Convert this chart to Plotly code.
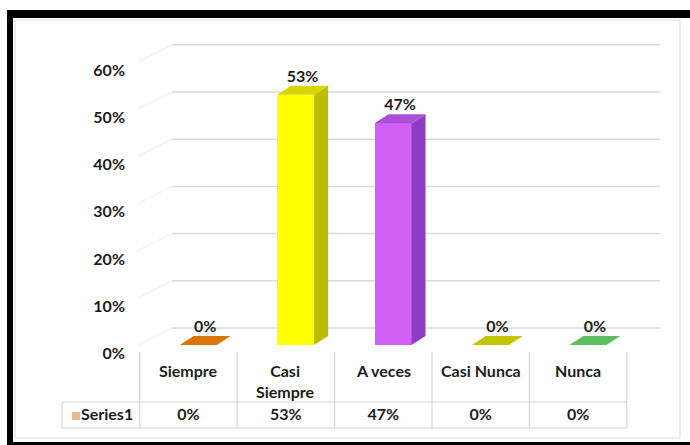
import plotly.graph_objects as go

# ---------------- data ----------------
categories = ["Siempre", "Casi Siempre", "A veces", "Casi Nunca", "Nunca"]
category_labels = ["Siempre", "Casi<br>Siempre", "A veces", "Casi Nunca", "Nunca"]
values = [0.0, 0.53, 0.47, 0.0, 0.0]
value_labels = ["0%", "53%", "47%", "0%", "0%"]
series_name = "Series1"
y_ticks = [0.0, 0.1, 0.2, 0.3, 0.4, 0.5, 0.6]
y_tick_labels = ["0%", "10%", "20%", "30%", "40%", "50%", "60%"]

# ---------------- styles ----------------
front_colors = ["#E07F12", "#FFFF00", "#D160F7", "#CACA00", "#62C462"]
top_colors = ["#D8760C", "#D6D600", "#A94FDA", "#C4C400", "#5CBE5C"]
side_colors = ["#B0600A", "#BCBC00", "#8E3EC4", "#A8A800", "#4A9E4A"]
legend_key_color = "#E8B996"
text_color = "#1c1c1c"
grid_color = "#d9d9d9"
table_line = "#d6d6d6"
FONT = "Lato"
FS = 16

W, H = 690, 445
X0_PX, XU = 188.5, 97.4      # pixel of category 0, pixels per category
Y0_PX, YU = 345.0, 472.0     # pixel of value 0 (front plane), pixels per 100%


def px_x(p):
    return (p - X0_PX) / XU


def px_y(p):
    return (Y0_PX - p) / YU


def pap_x(p):
    return p / W


def pap_y(p):
    return 1 - p / H


OFF = 0.10         # bar offset from category centre (3D perspective)
HW = 0.19          # half bar width
DX = 14 / XU       # bar depth, x
DY = 9 / YU        # bar depth, y
GRID_DY = 17 / YU  # back wall offset

tf = dict(family=FONT, size=FS, color=text_color, weight="bold")

fig = go.Figure()

# front faces
fig.add_trace(go.Bar(x=[i + OFF for i in range(len(values))], y=values, width=2 * HW,
                     marker=dict(color=front_colors, line=dict(width=0)),
                     hovertext=categories, name=series_name))

# side + top faces
for i, v in enumerate(values):
    x0, x1 = i + OFF - HW, i + OFF + HW
    if v > 0:
        fig.add_trace(go.Scatter(x=[x1, x1, x1 + DX, x1 + DX, x1], y=[0, v, v + DY, DY, 0],
                                 mode="lines", fill="toself", fillcolor=side_colors[i],
                                 line=dict(width=0, color=side_colors[i]), hoverinfo="skip"))
    fig.add_trace(go.Scatter(x=[x0, x1, x1 + DX, x0 + DX, x0], y=[v, v, v + DY, v + DY, v],
                             mode="lines", fill="toself", fillcolor=top_colors[i],
                             line=dict(width=0, color=top_colors[i]), hoverinfo="skip"))

# value labels
fig.add_trace(go.Scatter(x=[i + OFF + DX / 2 for i in range(len(values))],
                         y=[v + DY for v in values], mode="text", text=value_labels,
                         textposition="top center", textfont=tf, hoverinfo="skip"))

# y tick labels
fig.add_trace(go.Scatter(x=[px_x(125)] * len(y_ticks), y=[v - 10 / YU for v in y_ticks],
                         mode="text", text=y_tick_labels, textposition="middle left",
                         textfont=tf, hoverinfo="skip"))

# data table text
n = len(categories)
fig.add_trace(go.Scatter(x=list(range(n)), y=[px_y(416)] * n, mode="text", text=value_labels,
                         textposition="middle center", textfont=tf, hoverinfo="skip"))
fig.add_trace(go.Scatter(x=[px_x(76)], y=[px_y(416)], mode="markers",
                         marker=dict(symbol="square", size=8, color=legend_key_color),
                         hoverinfo="skip"))
fig.add_trace(go.Scatter(x=[px_x(81)], y=[px_y(416)], mode="text", text=[series_name],
                         textposition="middle right", textfont=tf, hoverinfo="skip"))

annotations = []
for i, lab in enumerate(category_labels):
    annotations.append(dict(x=i, y=px_y(359), xref="x", yref="y", text=lab, showarrow=False,
                            yanchor="top", xanchor="center", align="center", font=tf))

# frame
shapes = [
    dict(type="rect", xref="paper", yref="paper", x0=pap_x(7), x1=1.02, y0=-0.02, y1=pap_y(10),
         fillcolor="black", line=dict(width=0), layer="below"),
    dict(type="rect", xref="paper", yref="paper", x0=pap_x(13), x1=1.02, y0=pap_y(442),
         y1=pap_y(18), fillcolor="white", line=dict(width=0), layer="below"),
    dict(type="rect", xref="paper", yref="paper", x0=pap_x(15), x1=pap_x(680), y0=pap_y(438),
         y1=pap_y(20), line=dict(color="#dcdcdc", width=1), layer="below"),
]
# back wall gridlines and side wall diagonals (behind the bars)
for v in y_ticks:
    shapes.append(dict(type="line", xref="x", yref="y", x0=px_x(138), x1=px_x(172),
                       y0=v, y1=v + GRID_DY, line=dict(color="#f1f1f1", width=1.5),
                       layer="below"))
    shapes.append(dict(type="line", xref="x", yref="y", x0=px_x(172), x1=px_x(660),
                       y0=v + GRID_DY, y1=v + GRID_DY, line=dict(color=grid_color, width=1.5),
                       layer="below"))
# data table lines
top_t, mid_t, bot_t = px_y(352), px_y(402), px_y(428)
for b in [i - 0.5 for i in range(n + 1)]:
    shapes.append(dict(type="line", xref="x", yref="y", x0=b, x1=b, y0=top_t, y1=bot_t,
                       line=dict(color=table_line, width=1.2), layer="below"))
left_t = px_x(62)
for yy in (mid_t, bot_t):
    shapes.append(dict(type="line", xref="x", yref="y", x0=left_t, x1=n - 0.5, y0=yy, y1=yy,
                       line=dict(color=table_line, width=1.2), layer="below"))
shapes.append(dict(type="line", xref="x", yref="y", x0=left_t, x1=left_t, y0=mid_t, y1=bot_t,
                   line=dict(color=table_line, width=1.2), layer="below"))

fig.update_layout(
    width=W, height=H, margin=dict(l=0, r=0, t=0, b=0),
    paper_bgcolor="white", plot_bgcolor="rgba(0,0,0,0)",
    showlegend=False, shapes=shapes, annotations=annotations,
    xaxis=dict(visible=False, range=[px_x(0), px_x(W)], fixedrange=True),
    yaxis=dict(visible=False, range=[px_y(H), px_y(0)], fixedrange=True),
    bargap=0,
)

fig.write_html("out.html", config={"displayModeBar": False},
               post_script="document.body.style.margin='0';document.body.style.overflow='hidden';")
